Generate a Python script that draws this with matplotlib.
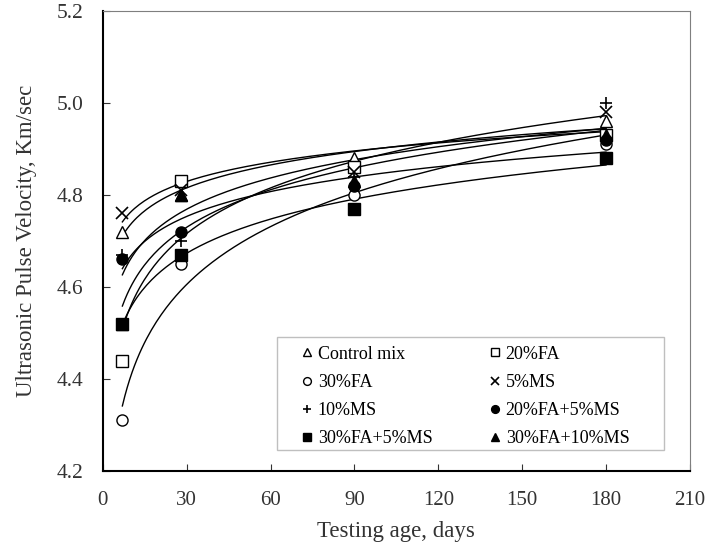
import numpy as np
import matplotlib
matplotlib.use('Agg')
import matplotlib.pyplot as plt
from matplotlib.patches import Rectangle

# testing ages (days)
days = [7, 28, 90, 180]

# ultrasonic pulse velocity, km/sec
control_mix = [4.72, 4.80, 4.88, 4.96]
fa20 = [4.44, 4.83, 4.86, 4.93]
fa30 = [4.31, 4.65, 4.80, 4.91]
ms5 = [4.76, 4.81, 4.85, 4.98]
ms10 = [4.67, 4.70, 4.84, 5.00]
fa20_ms5 = [4.66, 4.72, 4.82, 4.92]
fa30_ms5 = [4.52, 4.67, 4.77, 4.88]
fa30_ms10 = [4.52, 4.80, 4.83, 4.93]

labels = ['Control mix', '20%FA', '30%FA', '5%MS', '10%MS',
          '20%FA+5%MS', '30%FA+5%MS', '30%FA+10%MS']
series = [control_mix, fa20, fa30, ms5, ms10, fa20_ms5, fa30_ms5, fa30_ms10]
markers = ['^', 's', 'o', 'x', '+', 'o', 's', '^']
filled = [False, False, False, False, False, True, True, True]

plt.rcParams['font.family'] = ['Liberation Serif', 'DejaVu Serif']

fig = plt.figure(figsize=(7.09, 5.44), dpi=100)
ax = fig.add_axes([0.145, 0.134, 0.828, 0.846])

x = np.array(days, dtype=float)
xs = np.linspace(7, 180, 200)
handles = []
for vals, lab, m, f in zip(series, labels, markers, filled):
    # logarithmic trend line, like the spreadsheet one
    a, b = np.polyfit(np.log(x), np.array(vals), 1)
    ax.plot(xs, a * np.log(xs) + b, color='black', lw=1.0, zorder=2)
    if m in ('x', '+'):
        h, = ax.plot(days, vals, linestyle='none', marker=m, color='black',
                     markersize=8, mew=1.2, label=lab, zorder=3)
    else:
        h, = ax.plot(days, vals, linestyle='none', marker=m, markersize=8,
                     markerfacecolor='black' if f else 'white',
                     markeredgecolor='black', mew=1.0, label=lab, zorder=3)
    handles.append(h)

ax.set_xlim(0, 210)
ax.set_ylim(4.2, 5.2)
ax.set_xticks(range(0, 211, 30))
ax.set_yticks([4.2, 4.4, 4.6, 4.8, 5.0, 5.2])
ax.yaxis.set_major_formatter(matplotlib.ticker.FormatStrFormatter('%.1f'))
ax.tick_params(direction='in', length=5, colors='#333333')
ax.tick_params(axis='y', pad=14, labelsize=15.5)
ax.tick_params(axis='x', pad=14, labelsize=15)

for side in ('top', 'right'):
    ax.spines[side].set_color('#7f7f7f')
for side in ('left', 'bottom'):
    ax.spines[side].set_color('black')
    ax.spines[side].set_linewidth(1.5)

ax.set_xlabel('Testing age, days', fontsize=16.5, color='#333333', labelpad=8)
ax.set_ylabel('Ultrasonic Pulse Velocity, Km/sec', fontsize=16.5, color='#333333',
              labelpad=14)

# legend fills row by row: reorder for matplotlib's column-first layout
order = [0, 2, 4, 6, 1, 3, 5, 7]
leg = ax.legend([handles[i] for i in order], [labels[i] for i in order],
                ncol=2, loc='upper left', bbox_to_anchor=(0.337, 0.2725),
                fontsize=13, frameon=False,
                handlelength=0.7, handletextpad=0.25, columnspacing=3.1,
                markerscale=0.7, borderpad=0, labelspacing=0.62,
                borderaxespad=0)
# legend box drawn separately (wider side margins than the legend allows)
ax.add_patch(Rectangle((0.296, 0.046), 0.66, 0.245, transform=ax.transAxes,
                       facecolor='white', edgecolor='#bfbfbf', lw=1.0,
                       zorder=4))
leg.set_zorder(5)

fig.savefig('out.png', dpi=100)
